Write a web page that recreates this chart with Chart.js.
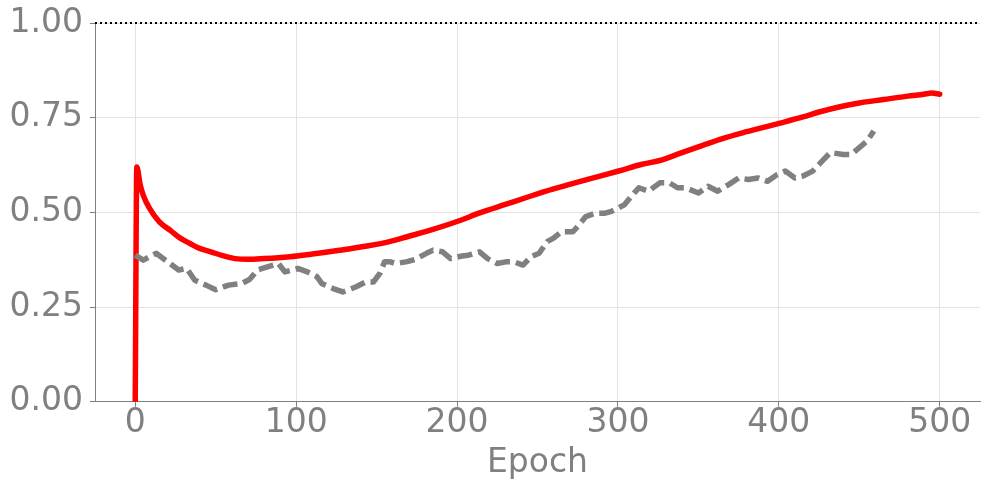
<!DOCTYPE html>
<html>
<head>
<meta charset="utf-8">
<script src="https://cdn.jsdelivr.net/npm/chart.js@4/dist/chart.umd.min.js"></script>
<style>
  html, body { margin: 0; padding: 0; background: #ffffff; }
  #wrap { width: 989px; height: 490px; }
</style>
</head>
<body>
<div id="wrap"><canvas id="c" width="989" height="490"></canvas></div>
<script>
// ---- data ----
const redEpochs = [0, 1, 3, 5, 9, 15, 22, 28, 34, 40, 47, 55, 62, 70, 80, 96, 110, 127, 145, 158, 170, 185, 200, 215, 230, 245, 260, 275, 290, 301, 315, 326, 338, 350, 365, 380, 400, 415, 425, 438, 450, 465, 480, 490, 495, 500];
const redValues = [0, 0.62, 0.575, 0.545, 0.51, 0.475, 0.452, 0.432, 0.418, 0.405, 0.396, 0.385, 0.378, 0.376, 0.378, 0.383, 0.39, 0.40, 0.412, 0.423, 0.437, 0.455, 0.476, 0.50, 0.521, 0.542, 0.562, 0.58, 0.597, 0.61, 0.627, 0.637, 0.655, 0.673, 0.695, 0.713, 0.735, 0.752, 0.765, 0.779, 0.789, 0.798, 0.807, 0.812, 0.815, 0.812];

const grayEpochs = [0, 5, 13, 20, 27, 32, 37, 44, 50, 58, 66, 71, 76, 79, 89, 93, 101, 107, 113, 116, 123, 129, 137, 143, 148, 152, 155, 158, 162, 169, 174, 181, 185, 191, 196, 203, 207, 214, 219, 225, 231, 235, 241, 246, 251, 256, 260, 265, 272, 276, 280, 286, 292, 296, 304, 310, 313, 319, 326, 332, 337, 342, 350, 356, 362, 369, 375, 381, 387, 393, 399, 404, 410, 415, 421, 427, 432, 440, 445, 450, 455, 459];
const grayValues = [0.387, 0.374, 0.392, 0.37, 0.348, 0.352, 0.321, 0.308, 0.296, 0.308, 0.312, 0.323, 0.348, 0.352, 0.365, 0.343, 0.352, 0.343, 0.33, 0.312, 0.299, 0.29, 0.303, 0.316, 0.316, 0.339, 0.37, 0.37, 0.365, 0.37, 0.376, 0.392, 0.40, 0.396, 0.378, 0.385, 0.387, 0.396, 0.378, 0.365, 0.37, 0.37, 0.361, 0.383, 0.392, 0.423, 0.432, 0.449, 0.449, 0.468, 0.489, 0.498, 0.498, 0.503, 0.52, 0.551, 0.565, 0.556, 0.578, 0.578, 0.565, 0.565, 0.551, 0.569, 0.556, 0.574, 0.591, 0.587, 0.591, 0.582, 0.60, 0.609, 0.591, 0.596, 0.609, 0.636, 0.658, 0.653, 0.653, 0.671, 0.689, 0.715];

const xTicks = [0, 100, 200, 300, 400, 500];
const yTicks = [0, 0.25, 0.5, 0.75, 1.0];
const referenceLevel = 1.0;
const xTitle = "Epoch";

// ---- chart ----
const GRAY = '#808080';
const FONT = { family: 'DejaVu Sans', size: 33 };

const toPoints = (xs, ys) => xs.map((x, i) => ({ x: x, y: ys[i] }));

const refLinePlugin = {
  id: 'refLine',
  afterDatasetsDraw(chart) {
    const { ctx, chartArea, scales } = chart;
    const y = scales.y.getPixelForValue(referenceLevel);
    ctx.save();
    ctx.strokeStyle = '#000000';
    ctx.lineWidth = 2;
    ctx.setLineDash([2, 3]);
    ctx.beginPath();
    ctx.moveTo(chartArea.left, y);
    ctx.lineTo(chartArea.right, y);
    ctx.stroke();
    ctx.restore();
  }
};

new Chart(document.getElementById('c'), {
  type: 'line',
  data: {
    datasets: [
      {
        label: 'gray',
        data: toPoints(grayEpochs, grayValues),
        borderColor: GRAY,
        borderWidth: 5.5,
        borderDash: [15, 6],
        pointRadius: 0,
        tension: 0,
        fill: false,
        borderJoinStyle: 'round'
      },
      {
        label: 'red',
        data: toPoints(redEpochs, redValues),
        borderColor: '#ff0000',
        borderWidth: 5.5,
        pointRadius: 0,
        cubicInterpolationMode: 'monotone',
        fill: false,
        borderJoinStyle: 'round',
        borderCapStyle: 'round'
      }
    ]
  },
  options: {
    responsive: false,
    animation: false,
    devicePixelRatio: 1,
    layout: { padding: { left: 10, top: 23, right: 9, bottom: 7 } },
    plugins: { legend: { display: false }, tooltip: { enabled: false } },
    scales: {
      x: {
        type: 'linear',
        min: -25,
        max: 525,
        afterBuildTicks(axis) { axis.ticks = xTicks.map(v => ({ value: v })); },
        ticks: { color: GRAY, font: FONT, padding: -3, maxRotation: 0, callback: v => String(v) },
        grid: { color: '#e3e3e3', lineWidth: 1, tickLength: 5, tickColor: GRAY, drawTicks: true },
        border: { color: GRAY, width: 1 },
        title: { display: true, text: xTitle, color: GRAY, font: FONT, padding: { top: 3, bottom: 0 } }
      },
      y: {
        type: 'linear',
        min: 0,
        max: 1,
        afterBuildTicks(axis) { axis.ticks = yTicks.map(v => ({ value: v })); },
        afterFit(scale) { scale.width = 85; scale.paddingTop = 0; scale.paddingBottom = 0; },
        ticks: { color: GRAY, font: FONT, padding: 7, callback: v => Number(v).toFixed(2) },
        grid: { color: '#e3e3e3', lineWidth: 1, tickLength: 5, tickColor: GRAY, drawTicks: true },
        border: { color: GRAY, width: 1 }
      }
    }
  },
  plugins: [refLinePlugin]
});
</script>
</body>
</html>
